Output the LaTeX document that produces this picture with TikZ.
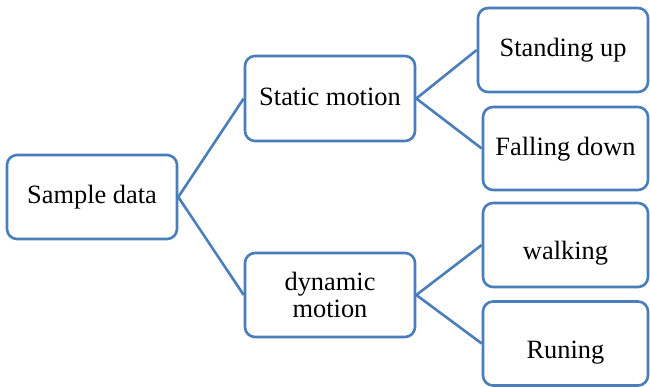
\documentclass[tikz,border=0pt]{standalone}
\usepackage{fontspec}
\setmainfont{Liberation Serif}
\definecolor{edgeblue}{HTML}{4A7EBB}
\begin{document}
\begin{tikzpicture}[x=1pt,y=-1pt,
  box/.style={draw=edgeblue, line width=2.6pt, rounded corners=10pt, fill=white,
    align=center, inner sep=0pt, font=\fontsize{26.4}{27}\selectfont},
  % single-line labels: baseline sits a little below the box centre
  oneline/.style={text height=20pt, text depth=6pt},
  lowline/.style={text height=35pt, text depth=5pt},
  link/.style={draw=edgeblue, line width=2.6pt}]
  \useasboundingbox (0,0) rectangle (650,387);
  % root and first level
  \node[box, oneline, minimum width=170pt, minimum height=84pt] (sample) at (92,197) {Sample data};
  \node[box, oneline, minimum width=170pt, minimum height=85pt] (static) at (330,98.5) {Static motion};
  \node[box, minimum width=170pt, minimum height=84pt] (dynamic) at (330,295) {dynamic\\motion};
  % leaves
  \node[box, oneline, minimum width=170pt, minimum height=84pt] (stand) at (563,50) {Standing up};
  \node[box, oneline, minimum width=165pt, minimum height=83pt] (fall) at (565.5,148.5) {Falling down};
  \node[box, lowline, minimum width=165pt, minimum height=84pt] (walk) at (565.5,245) {walking};
  \node[box, lowline, minimum width=165pt, minimum height=84pt] (run) at (565.5,343.5) {Runing};
  % connectors
  \draw[link] (sample.east) -- (static.west);
  \draw[link] (sample.east) -- (dynamic.west);
  \draw[link] (static.east) -- (stand.west);
  \draw[link] (static.east) -- (fall.west);
  \draw[link] (dynamic.east) -- (walk.west);
  \draw[link] (dynamic.east) -- (run.west);
\end{tikzpicture}
\end{document}
